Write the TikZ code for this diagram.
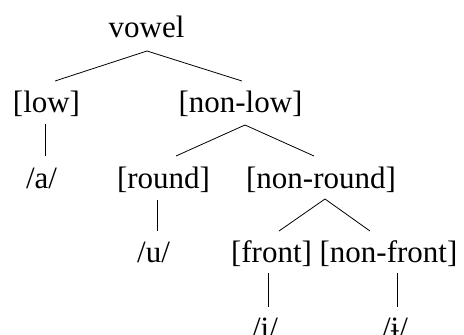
\documentclass[tikz,border=0pt]{standalone}
\usepackage{fontspec}
\setmainfont{Liberation Serif}
\begin{document}
\begin{tikzpicture}[x=1pt,y=-1pt,
  lab/.style={anchor=base,inner sep=0pt,font=\fontsize{31}{36}\selectfont},
  edge/.style={line width=0.8pt}]
\useasboundingbox (0,0) rectangle (464,335);
\clip (0,0) rectangle (464,335);
% nodes
\node[lab] (vowel) at (146.5,37) {vowel};
\node[lab] (low) at (46.5,112) {[low]};
\node[lab] (nonlow) at (240.5,112) {[non-low]};
\node[lab] (a) at (41.5,188) {/a/};
\node[lab] (round) at (163.5,188) {[round]};
\node[lab] (nonround) at (321,188) {[non-round]};
\node[lab] (u) at (153.5,262) {/u/};
\node[lab] (front) at (271.5,262) {[front]};
\node[lab] (nonfront) at (388.5,262) {[non-front]};
\node[lab] (i) at (265,338) {/i/};
\node[lab] (barI) at (395,338) {/ɨ/};
% connector end points
\coordinate (vowelB) at (147,51);
\coordinate (lowT) at (55,81);
\coordinate (nonlowT) at (242,81);
\coordinate (lowB) at (45,124);
\coordinate (aT) at (45,156);
\coordinate (nonlowB) at (245,125);
\coordinate (roundT) at (176,156);
\coordinate (nonroundT) at (314,156);
\coordinate (roundB) at (157,200);
\coordinate (uT) at (157,231);
\coordinate (nonroundB) at (325,199);
\coordinate (frontT) at (279,231);
\coordinate (nonfrontT) at (370,231);
\coordinate (frontB) at (268,273);
\coordinate (iT) at (268,307);
\coordinate (nonfrontB) at (397,273);
\coordinate (barIT) at (397,307);
% connectors
\draw[edge] (lowT) -- (vowelB) -- (nonlowT);
\draw[edge] (lowB) -- (aT);
\draw[edge] (roundT) -- (nonlowB) -- (nonroundT);
\draw[edge] (roundB) -- (uT);
\draw[edge] (frontT) -- (nonroundB) -- (nonfrontT);
\draw[edge] (frontB) -- (iT);
\draw[edge] (nonfrontB) -- (barIT);
\end{tikzpicture}
\end{document}
